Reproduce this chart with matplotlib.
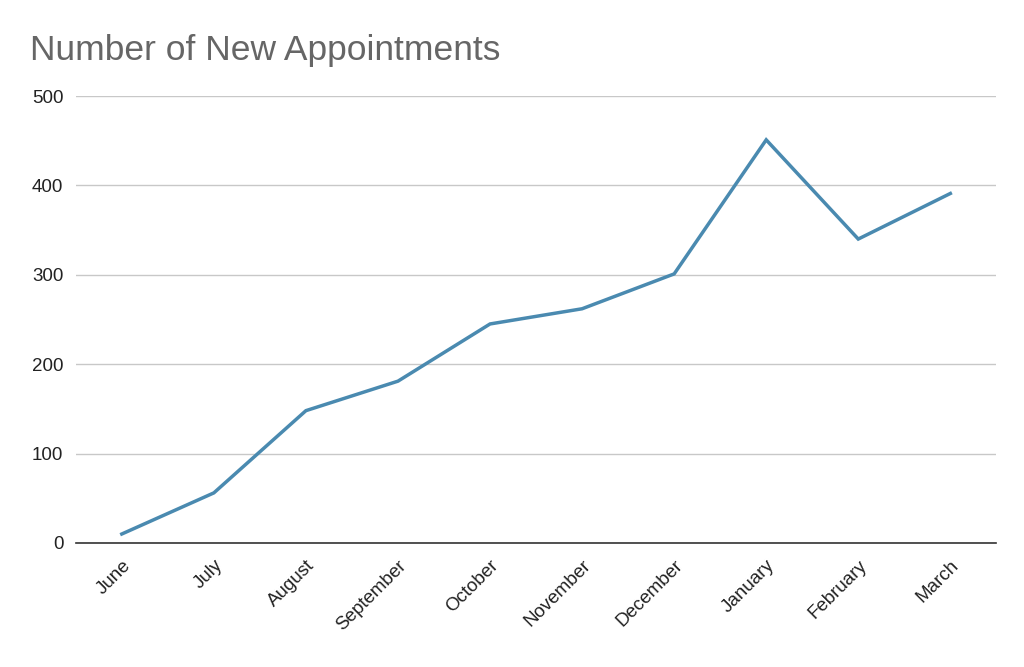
import matplotlib
matplotlib.use('Agg')
import matplotlib.pyplot as plt

months = ['June', 'July', 'August', 'September', 'October', 'November',
          'December', 'January', 'February', 'March']
appointments = [10, 56, 148, 181, 245, 262, 301, 451, 340, 391]
yticks = [0, 100, 200, 300, 400, 500]

plt.rcParams['font.family'] = ['Liberation Sans', 'DejaVu Sans']

fig = plt.figure(figsize=(10.24, 6.67), dpi=100)
ax = fig.add_axes([0.074, 0.186, 0.899, 0.67])

ax.plot(range(len(months)), appointments, color='#4a8ab0', linewidth=2.5,
        solid_joinstyle='miter')

ax.set_xlim(-0.5, len(months) - 0.5)
ax.set_ylim(0, 500)
ax.set_yticks(yticks)
ax.set_xticks(range(len(months)))
ax.set_xticklabels(months, rotation=45, ha='right', rotation_mode='anchor')
ax.tick_params(axis='both', length=0, labelsize=13.5, colors='#222222')
ax.tick_params(axis='x', pad=10)
ax.tick_params(axis='y', pad=9)

ax.grid(axis='y', color='#c8c8c8', linewidth=1)
ax.set_axisbelow(True)
for s in ['top', 'right', 'left']:
    ax.spines[s].set_visible(False)
ax.spines['bottom'].set_color('#333333')
ax.spines['bottom'].set_linewidth(1.2)

fig.text(0.029, 0.91, 'Number of New Appointments', fontsize=25.5, color='#666666')

fig.savefig('out.png', dpi=100, facecolor='white')
